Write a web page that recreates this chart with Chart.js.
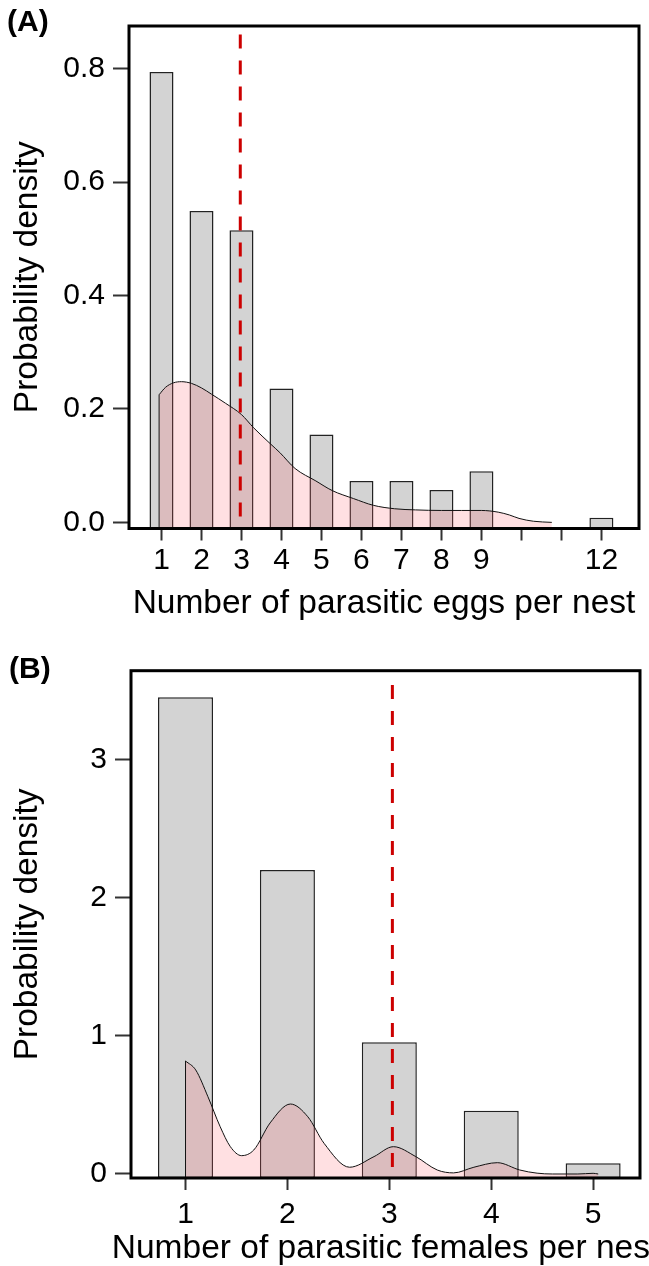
<!DOCTYPE html>
<html><head><meta charset="utf-8">
<script src="https://cdn.jsdelivr.net/npm/chart.js@4.4.1/dist/chart.umd.min.js"></script>
<style>
html,body{margin:0;padding:0;background:#fff;overflow:hidden;width:649px;height:1266px;position:relative;}
canvas{position:absolute;left:0;}
#ca{top:0;}
#cb{top:630px;}
.panel{position:absolute;font-family:'Liberation Sans',Arial,sans-serif;font-weight:bold;font-size:30px;line-height:1;color:#000;}
.xt{position:absolute;left:0;width:771px;text-align:center;white-space:nowrap;font-family:'Liberation Sans',Arial,sans-serif;font-size:33.5px;line-height:1;color:#000;}
</style></head><body>
<canvas id="ca" width="649" height="640"></canvas>
<canvas id="cb" width="649" height="650"></canvas>
<div class="panel" style="left:7px;top:6px">(A)</div>
<div class="panel" style="left:9px;top:653px">(B)</div>
<div class="xt" id="xtb" style="top:1230px"></div>
<script>
// ---- Panel A: parasitic eggs per nest ----
const eggCounts = [1, 2, 3, 4, 5, 6, 7, 8, 9, 12];
const eggDensity = [0.794, 0.549, 0.515, 0.236, 0.155, 0.073, 0.073, 0.057, 0.090, 0.008];
const eggKdeX = [0.94, 1.1, 1.3, 1.5, 1.75, 2.0, 2.25, 2.6, 3.0, 3.3, 3.73, 3.96, 4.34, 4.86, 5.27, 5.8, 6.3, 6.83, 7.35, 8.0, 8.5, 9.0, 9.42, 9.7, 9.94, 10.3, 10.76];
const eggKdeY = [0.225, 0.238, 0.246, 0.248, 0.245, 0.237, 0.226, 0.21, 0.19, 0.167, 0.138, 0.123, 0.095, 0.073, 0.056, 0.042, 0.030, 0.024, 0.022, 0.021, 0.021, 0.021, 0.018, 0.013, 0.007, 0.002, 0];
const eggMean = 2.97;
const eggMeanLineTop = 0.86;
const eggXTicks = [1, 2, 3, 4, 5, 6, 7, 8, 9, 10, 11, 12];
const eggXTickLabels = ['1', '2', '3', '4', '5', '6', '7', '8', '9', '', '', '12'];
const eggYTicks = [0, 0.2, 0.4, 0.6, 0.8];
const eggXRange = [0.1875, 12.94];
const eggYRange = [-0.0108, 0.875];
const eggXTitle = 'Number of parasitic eggs per nest';

// ---- Panel B: parasitic females per nest ----
const femCounts = [1, 2, 3, 4, 5];
const femDensity = [3.454, 2.203, 0.954, 0.459, 0.078];
const femKdeX = [1.0, 1.1, 1.22, 1.34, 1.44, 1.55, 1.67, 1.83, 2.03, 2.2, 2.36, 2.61, 2.85, 3.04, 3.26, 3.47, 3.63, 3.83, 4.06, 4.28, 4.45, 4.6, 4.85, 5.0, 5.05];
const femKdeY = [0.819, 0.754, 0.56, 0.343, 0.198, 0.133, 0.174, 0.37, 0.507, 0.415, 0.222, 0.049, 0.126, 0.198, 0.126, 0.029, 0.008, 0.049, 0.082, 0.029, 0.006, 0, 0, 0.005, 0];
const femMean = 3.03;
const femMeanLineTop = 3.543;
const femXTicks = [1, 2, 3, 4, 5];
const femXTickLabels = ['1', '2', '3', '4', '5'];
const femYTicks = [0, 1, 2, 3];
const femXRange = [0.465, 5.46];
const femYRange = [-0.029, 3.647];
const femXTitle = 'Number of parasitic females per nest';

const FONT = "'Liberation Sans', Arial, sans-serif";

const boxPlugin = {
  id: 'box',
  afterDatasetsDraw(chart) {
    const a = chart.chartArea, ctx = chart.ctx;
    ctx.save();
    ctx.strokeStyle = '#000';
    ctx.lineWidth = 3;
    ctx.strokeRect(a.left, a.top, a.right - a.left, a.bottom - a.top);
    ctx.restore();
  }
};

function makeChart(id, cfg) {
  const pts = (xs, ys) => xs.map((x, i) => ({x: x, y: ys[i]}));
  const yMin = cfg.yRange[0];
  return new Chart(document.getElementById(id), {
    type: 'bar',
    data: {
      datasets: [
        {
          type: 'line', order: 0,
          data: [{x: cfg.mean, y: cfg.meanTop}, {x: cfg.mean, y: yMin}],
          borderColor: '#cc0000', borderWidth: 3, borderDash: [14, 12],
          pointRadius: 0, fill: false
        },
        {
          type: 'line', order: 1,
          data: [{x: cfg.kdeX[0], y: yMin}, {x: cfg.kdeX[0], y: cfg.kdeY[0]}],
          borderColor: '#111', borderWidth: 1, pointRadius: 0, fill: false
        },
        {
          type: 'line', order: 2,
          data: pts(cfg.kdeX, cfg.kdeY),
          borderColor: '#111', borderWidth: 1, pointRadius: 0,
          cubicInterpolationMode: 'monotone',
          fill: 'start', backgroundColor: 'rgba(255,100,110,0.2)'
        },
        {
          type: 'bar', order: 3,
          data: pts(cfg.counts, cfg.density),
          base: yMin,
          backgroundColor: '#d3d3d3', borderColor: '#222', borderWidth: 1.5,
          borderSkipped: false,
          categoryPercentage: 1, barPercentage: cfg.barFrac
        }
      ]
    },
    options: {
      responsive: false,
      animation: false,
      events: [],
      layout: {padding: {top: cfg.padTop, right: cfg.padRight, left: 0, bottom: 0}},
      plugins: {legend: {display: false}, tooltip: {enabled: false}},
      scales: {
        x: {
          type: 'linear', offset: false,
          min: cfg.xRange[0], max: cfg.xRange[1],
          afterFit: s => { s.height = cfg.xAxisH; },
          afterBuildTicks: s => { s.ticks = cfg.xTicks.map(v => ({value: v})); },
          border: {display: false},
          grid: {drawOnChartArea: false, drawTicks: true, tickLength: 12, tickColor: '#333', tickWidth: 2, offset: false},
          ticks: {
            autoSkip: false, maxRotation: 0, padding: cfg.xTickPad, color: '#000',
            font: {family: FONT, size: 30},
            callback: (v) => { const i = cfg.xTicks.indexOf(v); return i >= 0 ? cfg.xTickLabels[i] : ''; }
          },
          title: {display: cfg.xTitleInChart, text: cfg.xTitle, color: '#000', font: {family: FONT, size: 33.5}, padding: {top: 0, bottom: cfg.xTitlePad}}
        },
        y: {
          type: 'linear',
          min: cfg.yRange[0], max: cfg.yRange[1],
          afterFit: s => { s.width = cfg.yAxisW; },
          afterBuildTicks: s => { s.ticks = cfg.yTicks.map(v => ({value: v})); },
          border: {display: false},
          grid: {drawOnChartArea: false, drawTicks: true, tickLength: 16, tickColor: '#333', tickWidth: 2},
          ticks: {
            padding: 8, color: '#000', font: {family: FONT, size: 30},
            callback: v => cfg.yFmt(v)
          },
          title: {display: true, text: 'Probability density', color: '#000', font: {family: FONT, size: 33.5}, padding: {top: cfg.yTitlePad, bottom: 0}}
        }
      }
    },
    plugins: [boxPlugin]
  });
}

makeChart('ca', {
  counts: eggCounts, density: eggDensity, kdeX: eggKdeX, kdeY: eggKdeY,
  mean: eggMean, meanTop: eggMeanLineTop, xTicks: eggXTicks, xTickLabels: eggXTickLabels,
  yTicks: eggYTicks, xRange: eggXRange, yRange: eggYRange, barFrac: 0.6,
  yFmt: v => v.toFixed(1), xTitle: eggXTitle, xTitleInChart: true,
  padTop: 21, padRight: 10, yAxisW: 129, xAxisH: 111.5, xTickPad: 2, xTitlePad: 16, yTitlePad: 8
});

makeChart('cb', {
  counts: femCounts, density: femDensity, kdeX: femKdeX, kdeY: femKdeY,
  mean: femMean, meanTop: femMeanLineTop, xTicks: femXTicks, xTickLabels: femXTickLabels,
  yTicks: femYTicks, xRange: femXRange, yRange: femYRange, barFrac: 0.54,
  yFmt: v => String(v), xTitle: femXTitle, xTitleInChart: false,
  padTop: 40.7, padRight: 9, yAxisW: 131, xAxisH: 102, xTickPad: 7, xTitlePad: 10, yTitlePad: 8
});
// The long bottom axis title is wider than the plot box (as in the reference), so it is set as page text.
document.getElementById('xtb').textContent = femXTitle;
</script>
</body></html>
